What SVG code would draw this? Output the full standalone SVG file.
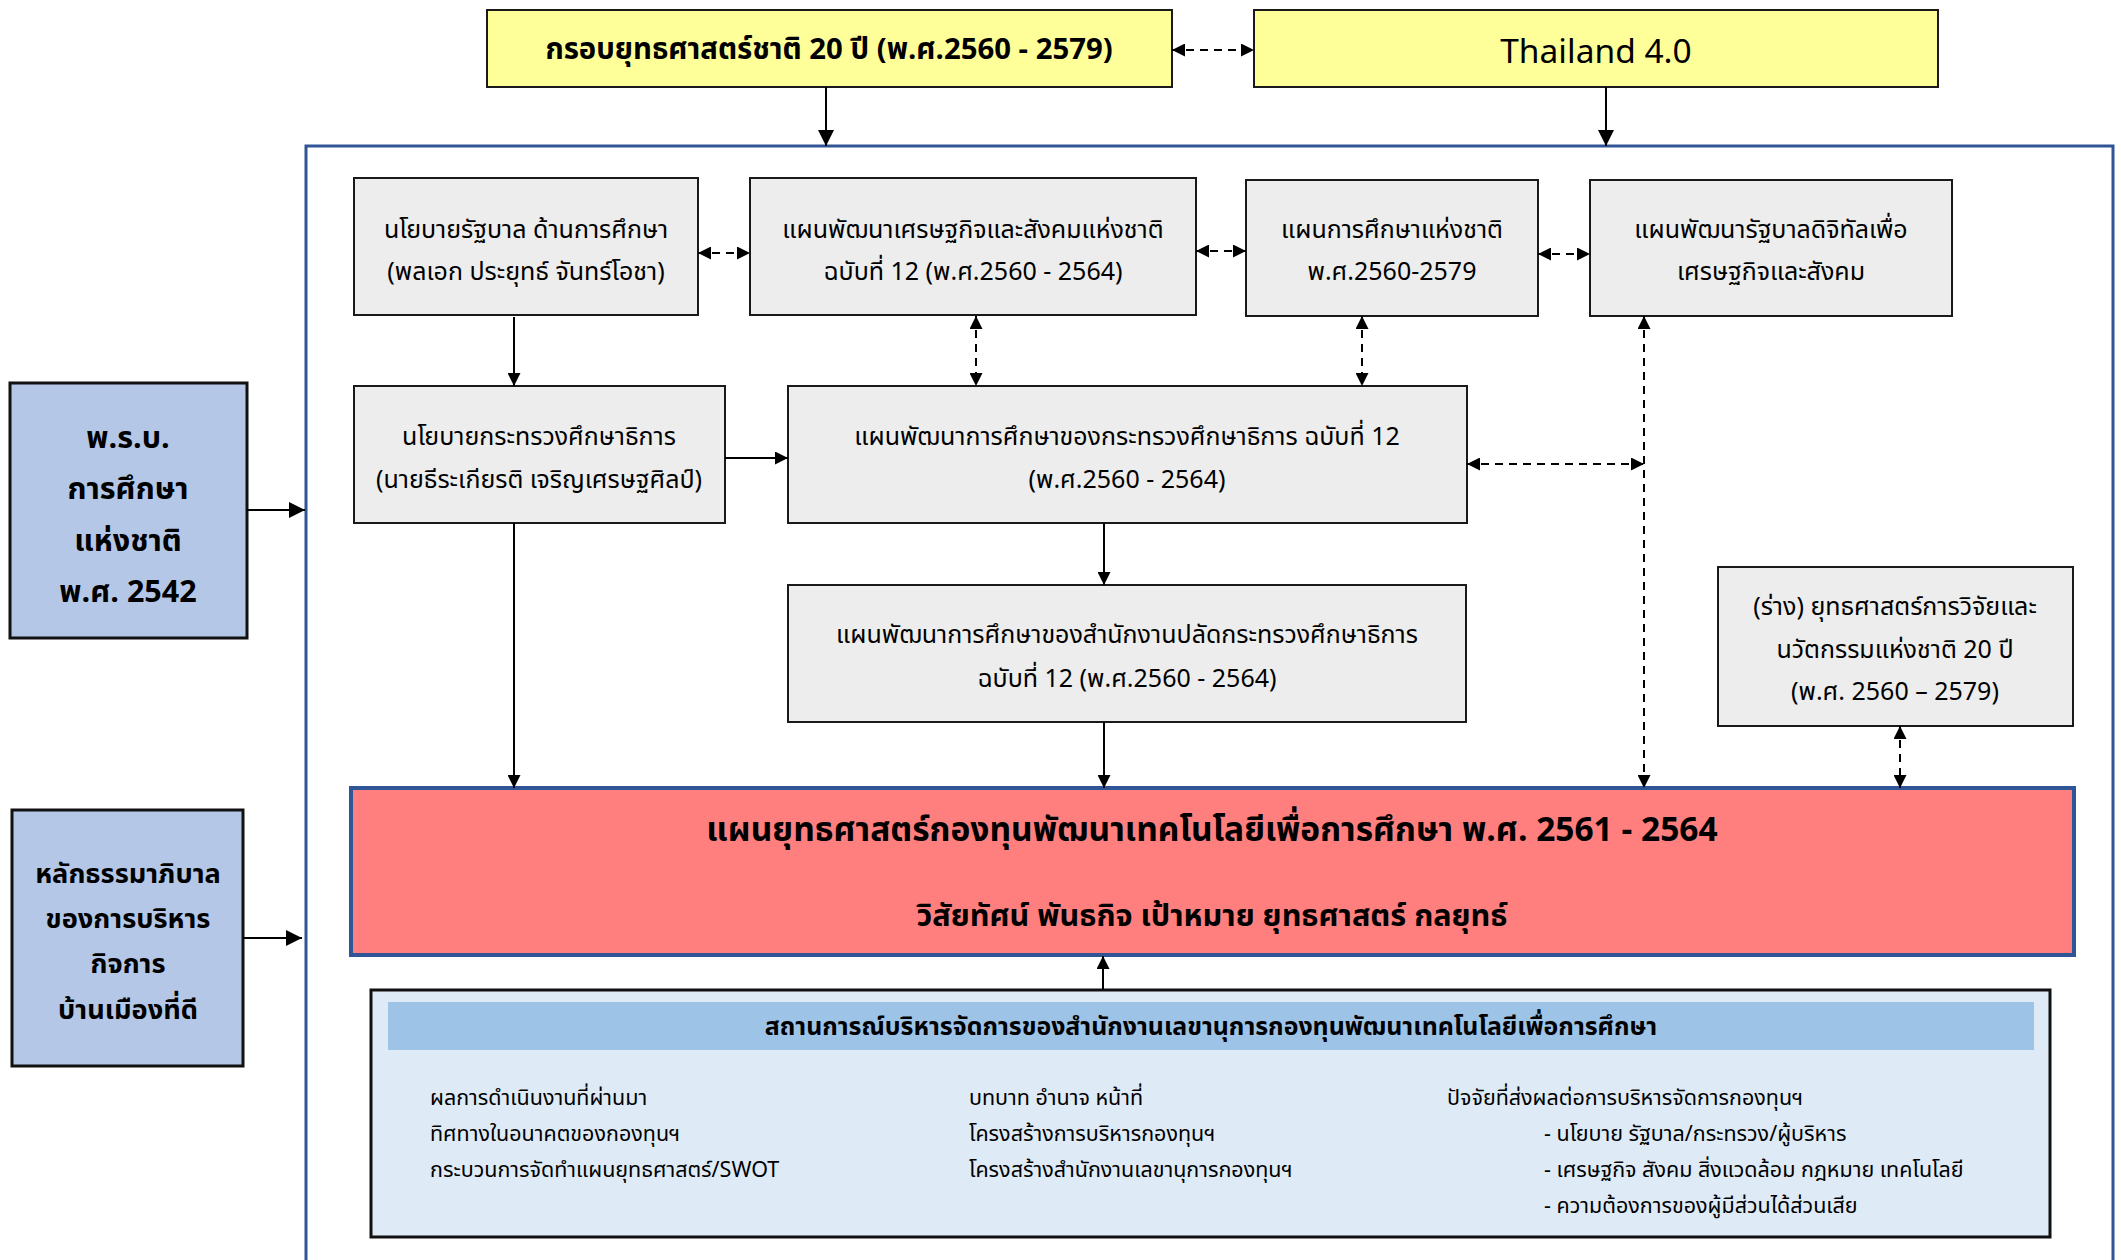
<svg xmlns="http://www.w3.org/2000/svg" width="2121" height="1260" viewBox="0 0 2121 1260">
<style>
text{font-family:"Noto Sans Thai","Noto Sans",sans-serif;fill:#000;text-anchor:middle}
.g{fill:#EDEDED;stroke:#1a1a1a;stroke-width:2}
.y{fill:#FFFF99;stroke:#1a1a1a;stroke-width:2}
.lb{fill:#B4C7E7;stroke:#111;stroke-width:3}
.t{font-size:25px}
.b{font-weight:bold}
.s{font-size:21.5px;text-anchor:start}
.ln{stroke:#000;stroke-width:2;fill:none}
.d{stroke-dasharray:8 6}
</style>
<defs>
<marker id="ah" viewBox="0 0 10 10" refX="10" refY="5" markerWidth="13" markerHeight="13" markerUnits="userSpaceOnUse" orient="auto-start-reverse"><path d="M0,0 L10,5 L0,10 z" fill="#000"/></marker>
<marker id="ahb" viewBox="0 0 10 10" refX="10" refY="5" markerWidth="16" markerHeight="16" markerUnits="userSpaceOnUse" orient="auto-start-reverse"><path d="M0,0 L10,5 L0,10 z" fill="#000"/></marker>
</defs>

<rect id="container" x="306" y="146" width="1807" height="1130" fill="none" stroke="#2F5597" stroke-width="3"/>

<g id="yellow1"><rect class="y" x="487" y="10" width="685" height="77"/><text class="b" x="829" y="59" font-size="29.3">กรอบยุทธศาสตร์ชาติ 20 ปี (พ.ศ.2560 - 2579)</text></g>
<g id="yellow2"><rect class="y" x="1254" y="10" width="684" height="77"/><text x="1596" y="63" font-size="33.5">Thailand 4.0</text></g>

<g id="pbb"><rect class="lb" x="10" y="383" width="237" height="255"/>
<text class="b" font-size="30.5" x="128" y="448">พ.ร.บ.</text>
<text class="b" font-size="30.5" x="128" y="499">การศึกษา</text>
<text class="b" font-size="30.5" x="128" y="551">แห่งชาติ</text>
<text class="b" font-size="30.5" x="128" y="602">พ.ศ. 2542</text></g>

<g id="governance"><rect class="lb" x="12" y="810" width="231" height="256"/>
<text class="b" font-size="27.2" x="128" y="883">หลักธรรมาภิบาล</text>
<text class="b" font-size="27.2" x="128" y="928">ของการบริหาร</text>
<text class="b" font-size="27.2" x="128" y="973">กิจการ</text>
<text class="b" font-size="27.2" x="128" y="1019">บ้านเมืองที่ดี</text></g>

<g id="boxA"><rect class="g" x="354" y="178" width="344" height="137"/>
<text class="t" x="526" y="238">นโยบายรัฐบาล ด้านการศึกษา</text>
<text class="t" x="526" y="280">(พลเอก ประยุทธ์ จันทร์โอชา)</text></g>

<g id="boxB"><rect class="g" x="750" y="178" width="446" height="137"/>
<text class="t" x="973" y="238">แผนพัฒนาเศรษฐกิจและสังคมแห่งชาติ</text>
<text class="t" x="973" y="280">ฉบับที่ 12 (พ.ศ.2560 - 2564)</text></g>

<g id="boxC"><rect class="g" x="1246" y="180" width="292" height="136"/>
<text class="t" x="1392" y="238">แผนการศึกษาแห่งชาติ</text>
<text class="t" x="1392" y="280">พ.ศ.2560-2579</text></g>

<g id="boxD"><rect class="g" x="1590" y="180" width="362" height="136"/>
<text class="t" x="1771" y="238">แผนพัฒนารัฐบาลดิจิทัลเพื่อ</text>
<text class="t" x="1771" y="280">เศรษฐกิจและสังคม</text></g>

<g id="boxE"><rect class="g" x="354" y="386" width="371" height="137"/>
<text class="t" x="539" y="445">นโยบายกระทรวงศึกษาธิการ</text>
<text class="t" x="539" y="488">(นายธีระเกียรติ เจริญเศรษฐศิลป์)</text></g>

<g id="boxF"><rect class="g" x="788" y="386" width="679" height="137"/>
<text class="t" x="1127" y="445">แผนพัฒนาการศึกษาของกระทรวงศึกษาธิการ ฉบับที่ 12</text>
<text class="t" x="1127" y="488">(พ.ศ.2560 - 2564)</text></g>

<g id="boxF2"><rect class="g" x="788" y="585" width="678" height="137"/>
<text class="t" x="1127" y="643">แผนพัฒนาการศึกษาของสำนักงานปลัดกระทรวงศึกษาธิการ</text>
<text class="t" x="1127" y="687">ฉบับที่ 12 (พ.ศ.2560 - 2564)</text></g>

<g id="boxG"><rect class="g" x="1718" y="567" width="355" height="159"/>
<text class="t" x="1895" y="615">(ร่าง) ยุทธศาสตร์การวิจัยและ</text>
<text class="t" x="1895" y="658">นวัตกรรมแห่งชาติ 20 ปี</text>
<text class="t" x="1895" y="700">(พ.ศ. 2560 – 2579)</text></g>

<g id="redPlan"><rect x="351" y="788" width="1723" height="167" fill="#FF7F7F" stroke="#2F5597" stroke-width="4"/>
<text class="b" font-size="33.5" x="1212" y="841">แผนยุทธศาสตร์กองทุนพัฒนาเทคโนโลยีเพื่อการศึกษา พ.ศ. 2561 - 2564</text>
<text class="b" font-size="30.6" x="1212" y="926">วิสัยทัศน์ พันธกิจ เป้าหมาย ยุทธศาสตร์ กลยุทธ์</text></g>

<g id="situation"><rect x="371" y="990" width="1679" height="247" fill="#DEEBF7" stroke="#111" stroke-width="3"/>
<rect x="388" y="1002" width="1646" height="48" fill="#9DC3E6"/>
<text class="b" font-size="24.9" x="1211" y="1035">สถานการณ์บริหารจัดการของสำนักงานเลขานุการกองทุนพัฒนาเทคโนโลยีเพื่อการศึกษา</text>
<text class="s" x="430" y="1105">ผลการดำเนินงานที่ผ่านมา</text>
<text class="s" x="430" y="1141">ทิศทางในอนาคตของกองทุนฯ</text>
<text class="s" x="430" y="1177">กระบวนการจัดทำแผนยุทธศาสตร์/SWOT</text>
<text class="s" x="969" y="1105">บทบาท อำนาจ หน้าที่</text>
<text class="s" x="969" y="1141">โครงสร้างการบริหารกองทุนฯ</text>
<text class="s" x="969" y="1177">โครงสร้างสำนักงานเลขานุการกองทุนฯ</text>
<text class="s" x="1447" y="1105">ปัจจัยที่ส่งผลต่อการบริหารจัดการกองทุนฯ</text>
<text class="s" x="1544" y="1141">- นโยบาย รัฐบาล/กระทรวง/ผู้บริหาร</text>
<text class="s" x="1544" y="1177">- เศรษฐกิจ สังคม สิ่งแวดล้อม กฎหมาย เทคโนโลยี</text>
<text class="s" x="1544" y="1213">- ความต้องการของผู้มีส่วนได้ส่วนเสีย</text></g>

<g id="connectors">
<line class="ln d" x1="1172" y1="50" x2="1254" y2="50" marker-start="url(#ah)" marker-end="url(#ah)"/>
<line class="ln" stroke-width="3" x1="826" y1="87" x2="826" y2="146" marker-end="url(#ahb)"/>
<line class="ln" stroke-width="3" x1="1606" y1="87" x2="1606" y2="146" marker-end="url(#ahb)"/>
<line class="ln" stroke-width="4" x1="247" y1="510" x2="305" y2="510" marker-end="url(#ahb)"/>
<line class="ln" stroke-width="4" x1="243" y1="938" x2="302" y2="938" marker-end="url(#ahb)"/>
<line class="ln d" x1="698" y1="253" x2="750" y2="253" marker-start="url(#ah)" marker-end="url(#ah)"/>
<line class="ln d" x1="1196" y1="251" x2="1246" y2="251" marker-start="url(#ah)" marker-end="url(#ah)"/>
<line class="ln d" x1="1538" y1="254" x2="1590" y2="254" marker-start="url(#ah)" marker-end="url(#ah)"/>
<line class="ln" x1="514" y1="317" x2="514" y2="386" marker-end="url(#ah)"/>
<line class="ln d" x1="976" y1="316" x2="976" y2="386" marker-start="url(#ah)" marker-end="url(#ah)"/>
<line class="ln d" x1="1362" y1="316" x2="1362" y2="386" marker-start="url(#ah)" marker-end="url(#ah)"/>
<line class="ln" x1="725" y1="458" x2="788" y2="458" marker-end="url(#ah)"/>
<line class="ln d" x1="1467" y1="464" x2="1644" y2="464" marker-start="url(#ah)" marker-end="url(#ah)"/>
<line class="ln d" x1="1644" y1="316" x2="1644" y2="788" marker-start="url(#ah)" marker-end="url(#ah)"/>
<line class="ln" x1="514" y1="523" x2="514" y2="788" marker-end="url(#ah)"/>
<line class="ln" x1="1104" y1="523" x2="1104" y2="585" marker-end="url(#ah)"/>
<line class="ln" x1="1104" y1="722" x2="1104" y2="788" marker-end="url(#ah)"/>
<line class="ln d" x1="1900" y1="726" x2="1900" y2="788" marker-start="url(#ah)" marker-end="url(#ah)"/>
<line class="ln" x1="1103" y1="990" x2="1103" y2="956" marker-end="url(#ah)"/>
</g>
</svg>
